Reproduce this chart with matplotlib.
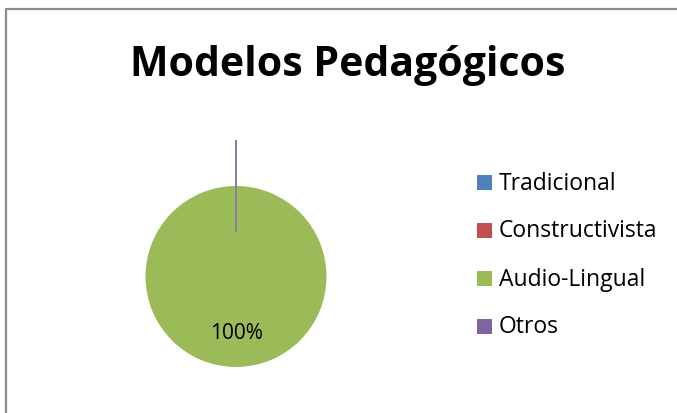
import numpy as np
import matplotlib.pyplot as plt
from matplotlib.patches import Rectangle

W, H = 677, 414

categories = ["Tradicional", "Constructivista", "Audio-Lingual", "Otros"]
values = [0, 0, 100, 0]
colors = ["#4F81BD", "#C0504D", "#9BBB59", "#8064A2"]

plt.rcParams['font.family'] = ['Open Sans', 'DejaVu Sans']

fig = plt.figure(figsize=(W / 100, H / 100), dpi=100)
ax = fig.add_axes([0, 0, 1, 1])

def pct(p):
    return "%d%%" % round(p) if p > 0 else ""

wedges, texts, autotexts = ax.pie(values, colors=colors, startangle=90,
                                  center=(236, H - 277.5), radius=90.5,
                                  autopct=pct, pctdistance=0.62,
                                  textprops={'fontsize': 15, 'color': 'black'},
                                  frame=True)
ax.set_xlim(0, W)
ax.set_ylim(0, H)
ax.set_aspect('equal')
ax.axis('off')

# outer chart frame (runs off the right/bottom edge)
ax.plot([5.5, 5.5, 900], [-100, H - 9.5, H - 9.5], color='#8c8c8c',
        linewidth=1.6, clip_on=False)

# leader line of the zero slices
ax.plot([236, 236], [H - 142, H - 232], color='#8c7aa6', linewidth=1.4)

ax.text(348, H - 76, "Modelos Pedagógicos", ha='center', va='baseline',
        fontsize=29.5, fontweight='bold')

for i, (name, c) in enumerate(zip(categories, colors)):
    yc = H - (183.5 + i * 48)
    ax.add_patch(Rectangle((477, yc - 7.5), 15, 15, facecolor=c, edgecolor='none'))
    ax.text(499, yc, name, ha='left', va='center', fontsize=16.5)

fig.savefig("out.png", dpi=100)
